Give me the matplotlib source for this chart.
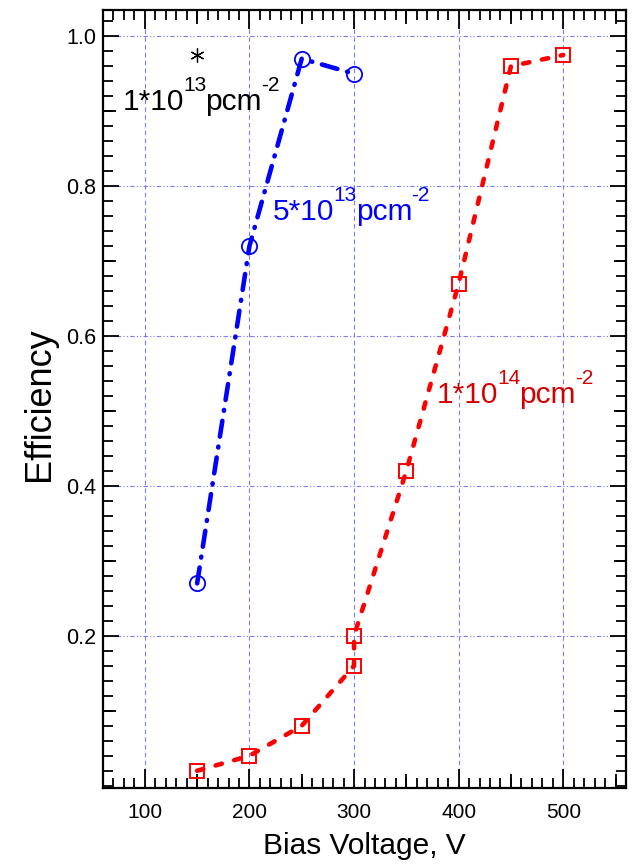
import numpy as np
import matplotlib
matplotlib.use("Agg")
import matplotlib.pyplot as plt
from matplotlib.ticker import FixedLocator, MultipleLocator

# ---------------- data ----------------
v_1e14 = [150, 200, 250, 300, 300, 350, 400, 450, 500]
eff_1e14 = [0.02, 0.04, 0.08, 0.16, 0.20, 0.42, 0.67, 0.96, 0.975]

v_5e13 = [150, 200, 250, 300]
eff_5e13 = [0.27, 0.72, 0.97, 0.95]

v_1e13 = [150]
eff_1e13 = [0.975]

x_major = [100, 200, 300, 400, 500]
y_major = [0.2, 0.4, 0.6, 0.8, 1.0]
x_label = "Bias Voltage, V"
y_label = "Efficiency"
# label pieces: (text, is_superscript)
lbl_1e13 = [("1*10", False), ("13", True), ("pcm", False), ("-2", True)]
lbl_5e13 = [("5*10", False), ("13", True), ("pcm", False), ("-2", True)]
lbl_1e14 = [("1*10", False), ("14", True), ("pcm", False), ("-2", True)]

# ---------------- style ----------------
plt.rcParams['font.family'] = ['Liberation Sans', 'DejaVu Sans']

fig = plt.figure(figsize=(6.33, 8.65), dpi=100)
ax = fig.add_axes([103/633, 1-788/865, (626-103)/633, (788-10)/865])

ax.set_xlim(60, 560)
ax.set_ylim(-0.003, 1.035)

grid_c = '#7a7aff'
for xv in x_major:
    ax.axvline(xv, color=grid_c, lw=0.8, ls=(0, (4, 3)), zorder=0)
for yv in y_major:
    ax.axhline(yv, color=grid_c, lw=0.8, ls=(0, (4, 2, 1, 2, 1, 2)), zorder=0)

red = '#ff0000'
blue = '#0000ff'

ax.plot(v_1e14, eff_1e14, color=red, lw=3.3, ls=(0, (1.4, 2.8)),
        dash_capstyle='round', marker='s', markersize=10, mfc='none',
        mec=red, mew=1.4, zorder=3)
ax.plot(v_5e13, eff_5e13, color=blue, lw=3.3, ls=(0, (3.5, 2.2, 0.2, 2.2)),
        dash_capstyle='round', marker='o', markersize=11, mfc='none',
        mec=blue, mew=1.3, zorder=3)
ax.plot(v_1e13, eff_1e13, ls='none', marker=(6, 2, 0), markersize=10,
        color='black', mew=0.9, zorder=3)

renderer = fig.canvas.get_renderer()


def sup_label(x, y, parts, color, fs=21.5, fs_sup=15, raise_px=19, gap_px=-1):
    x0, y0 = ax.transData.transform((x, y))
    cur = x0
    inv = ax.transData.inverted()
    for txt, sup in parts:
        yy = y0 + (raise_px if sup else 0)
        dx, dy = inv.transform((cur, yy))
        t = ax.text(dx, dy, txt, color=color, fontsize=fs_sup if sup else fs,
                    va='baseline', ha='left', zorder=4)
        bb = t.get_window_extent(renderer)
        cur = bb.x1 + gap_px


sup_label(79, 0.901, lbl_1e13, 'black')
sup_label(222.5, 0.755, lbl_5e13, blue)
sup_label(379, 0.511, lbl_1e14, '#d40000')

# ticks
ax.xaxis.set_major_locator(FixedLocator(x_major))
ax.xaxis.set_minor_locator(MultipleLocator(10))
ax.yaxis.set_major_locator(FixedLocator(y_major))
ax.yaxis.set_minor_locator(MultipleLocator(0.02))
ax.tick_params(which='both', direction='in', top=True, right=True, width=1.3, color='black')
ax.tick_params(axis='x', which='major', length=13.5, labelsize=15, pad=11)
ax.tick_params(axis='y', which='major', length=11.5, labelsize=15.5, pad=5)
ax.tick_params(which='minor', length=7)

for sp in ax.spines.values():
    sp.set_linewidth(1.6)

# medium ticks
for loc in ('bottom', 'top'):
    s = ax.secondary_xaxis(loc)
    s.set_xticks(np.arange(150, 560, 100))
    s.tick_params(direction='in', length=10, width=1.3, labelbottom=False, labeltop=False)
    for sp in s.spines.values():
        sp.set_visible(False)
for loc in ('left', 'right'):
    s = ax.secondary_yaxis(loc)
    s.set_yticks([0.1, 0.3, 0.5, 0.7, 0.9])
    s.tick_params(direction='in', length=9, width=1.3, labelleft=False, labelright=False)
    for sp in s.spines.values():
        sp.set_visible(False)

ax.set_xlabel(x_label, fontsize=21.5)
ax.set_ylabel(y_label, fontsize=26)
ax.xaxis.set_label_coords(0.5, -0.057)
ax.yaxis.set_label_coords(-0.088, 0.494)

fig.savefig('out.png', dpi=100)
